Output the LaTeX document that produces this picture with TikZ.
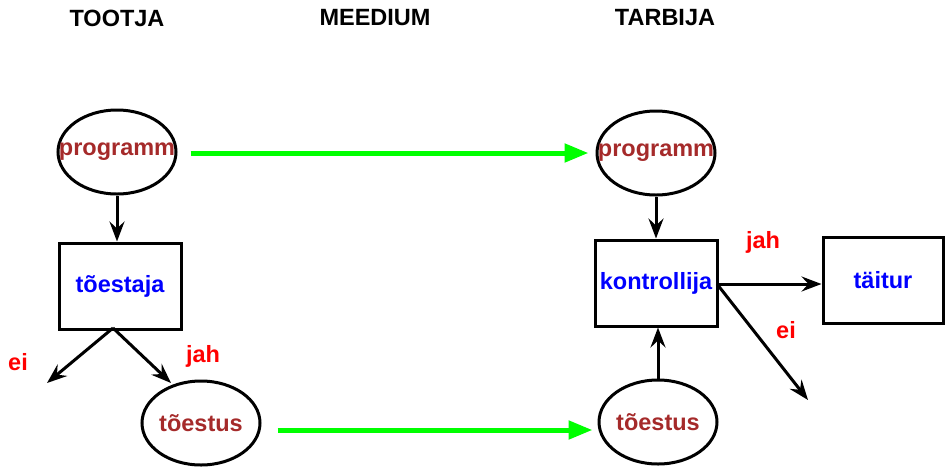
\documentclass[tikz,border=0pt]{standalone}
\usepackage{fontspec}
\setmainfont{Liberation Sans}
\usetikzlibrary{shapes.geometric,arrows.meta}
\definecolor{dred}{RGB}{165,42,42}
\definecolor{lgreen}{RGB}{0,255,0}
\begin{document}
\begin{tikzpicture}[x=1pt,y=-1pt,
  every node/.style={font=\fontsize{23.5}{25}\selectfont\bfseries},
  oval/.style={ellipse,draw,line width=3pt,inner sep=0pt,minimum width=118pt,minimum height=84pt,text=dred},
  boxnode/.style={rectangle,draw,line width=3pt,inner sep=0pt,minimum width=122pt,minimum height=86pt,text=blue},
  title/.style={text=black},
  lbl/.style={text=red},
  arr/.style={line width=3pt,-{Stealth[length=20pt,width=15pt,inset=7pt]}},
  garr/.style={line width=5pt,draw=lgreen,-{Triangle[length=24pt,width=18pt]}}
]
\useasboundingbox (0,0) rectangle (945,472);
\node[title] (t1) at (117,18) {TOOTJA};
\node[title] (t2) at (375,18) {MEEDIUM};
\node[title] (t3) at (665,18) {TARBIJA};

\node[oval] (p1) at (117,152) {\makebox[0pt]{programm}};
\node[boxnode] (b1) at (120,286) {tõestaja};
\node[oval] (e1) at (201,423) {\makebox[0pt]{tõestus}};

\node[oval] (p2) at (656,153) {\makebox[0pt]{programm}};
\node[boxnode] (b2) at (656,283) {\makebox[0pt]{kontrollija}};
\node[oval] (e2) at (658,422) {\makebox[0pt]{tõestus}};
\node[boxnode,minimum width=120pt] (b3) at (883,280) {täitur};

\coordinate (c1) at (113,328);
\coordinate (ne1) at (47,383);
\coordinate (nj1) at (171,383);
\coordinate (k1) at (717,284);
\coordinate (ne2) at (808,400);

\node[lbl] (l1) at (18,362) {ei};
\node[lbl] (l2) at (203,356) {jah};
\node[lbl] (l3) at (763,242) {jah};
\node[lbl] (l4) at (786,330) {ei};

\draw[arr] (p1.south) -- (p1.south |- b1.north);
\draw[arr] (c1) -- (ne1);
\draw[arr] (c1) -- (nj1);
\draw[arr] (p2.south) -- (p2.south |- b2.north);
\draw[arr] (e2.north) -- (e2.north |- b2.south);
\draw[arr] (k1) -- (b3.west |- k1);
\draw[arr] (k1) -- (ne2);

\draw[garr,shorten <=13pt,shorten >=7pt] (p1.east |- 0,153) -- (p2.west |- 0,153);
\draw[garr,shorten <=16pt,shorten >=5pt] (e1.east |- 0,430) -- (e2.west |- 0,430);
\end{tikzpicture}
\end{document}
